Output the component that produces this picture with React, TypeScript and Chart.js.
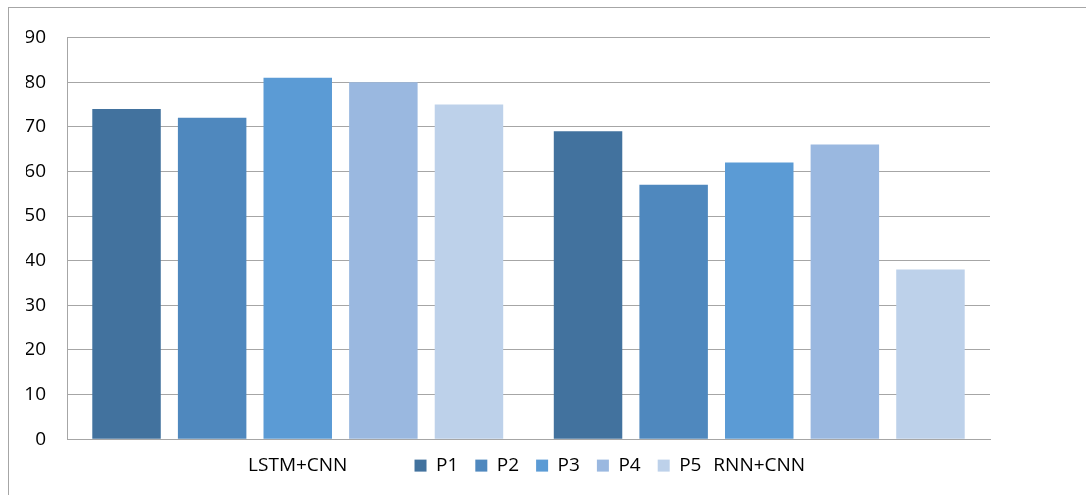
import React, { useEffect, useRef } from "react";
import { Chart, registerables } from "chart.js";

Chart.register(...registerables);

const categories = ["LSTM+CNN", "RNN+CNN"];
const seriesNames = ["P1", "P2", "P3", "P4", "P5"];
const p1 = [74, 69];
const p2 = [72, 57];
const p3 = [81, 62];
const p4 = [80, 66];
const p5 = [75, 38];
const seriesValues = [p1, p2, p3, p4, p5];
const seriesColors = ["#42729E", "#4F88BE", "#5B9BD5", "#9AB8E0", "#BDD1EA"];
const yTicks = [0, 10, 20, 30, 40, 50, 60, 70, 80, 90];

const FONT = "'Open Sans', 'Liberation Sans', Arial, sans-serif";
const FONT_SIZE = 19;
const X_TICK_PAD = 15;
const LEGEND_PAD = 17;

const legendRowPlugin = {
  id: "legendRow",
  afterLayout(chart: any) {
    const legend = chart.legend;
    const xs = chart.scales.x;
    if (!legend || !xs) return;
    const labelCenter = xs.top + X_TICK_PAD + (FONT_SIZE * 1.2) / 2;
    const h = legend.height;
    legend.top = labelCenter - LEGEND_PAD - FONT_SIZE / 2;
    legend.bottom = legend.top + h;
    legend.left = 0;
    legend.right = chart.width;
    legend.width = chart.width;
  },
};

export default function App() {
  const ref = useRef<HTMLCanvasElement | null>(null);

  useEffect(() => {
    if (!ref.current) return;
    const chart = new Chart(ref.current, {
      type: "bar",
      data: {
        labels: categories,
        datasets: seriesNames.map((name, i) => ({
          label: name,
          data: seriesValues[i],
          backgroundColor: seriesColors[i],
          borderWidth: 0,
          categoryPercentage: 0.9275,
          barPercentage: 0.8,
        })),
      },
      options: {
        animation: false,
        responsive: true,
        maintainAspectRatio: false,
        layout: { padding: { top: 29.5, left: 17, right: 117, bottom: 0 } },
        plugins: {
          tooltip: { enabled: false },
          legend: {
            display: true,
            position: "bottom",
            labels: {
              boxWidth: 12,
              boxHeight: 12,
              padding: LEGEND_PAD,
              color: "#000",
              font: { family: FONT, size: FONT_SIZE },
            },
          },
        },
        scales: {
          x: {
            grid: { display: false, drawTicks: false },
            border: { display: true, color: "#a6a6a6", width: 1 },
            ticks: {
              padding: X_TICK_PAD,
              color: "#000",
              font: { family: FONT, size: FONT_SIZE },
            },
          },
          y: {
            min: 0,
            max: 90,
            afterBuildTicks: (axis: any) => {
              axis.ticks = yTicks.map((v) => ({ value: v }));
            },
            afterFit: (axis: any) => {
              axis.width = 41;
              axis.paddingTop = 0;
              axis.paddingBottom = 0;
            },
            grid: { color: "#a6a6a6", lineWidth: 1, drawTicks: false },
            border: { display: true, color: "#a6a6a6", width: 1 },
            ticks: {
              padding: 21,
              color: "#000",
              font: { family: FONT, size: FONT_SIZE },
            },
          },
        },
      },
      plugins: [legendRowPlugin],
    });
    return () => chart.destroy();
  }, []);

  return (
    <div
      style={{
        position: "fixed",
        left: 0,
        top: 0,
        width: 1086,
        height: 495,
        overflow: "hidden",
        background: "#fff",
      }}
    >
      <div
        style={{
          position: "absolute",
          left: 8,
          top: 7,
          width: 1100,
          height: 545,
          border: "1px solid #a6a6a6",
          boxSizing: "border-box",
        }}
      >
        <div style={{ position: "absolute", left: 0, top: 0, width: 1098, height: 530 }}>
          <canvas ref={ref} />
        </div>
      </div>
    </div>
  );
}
